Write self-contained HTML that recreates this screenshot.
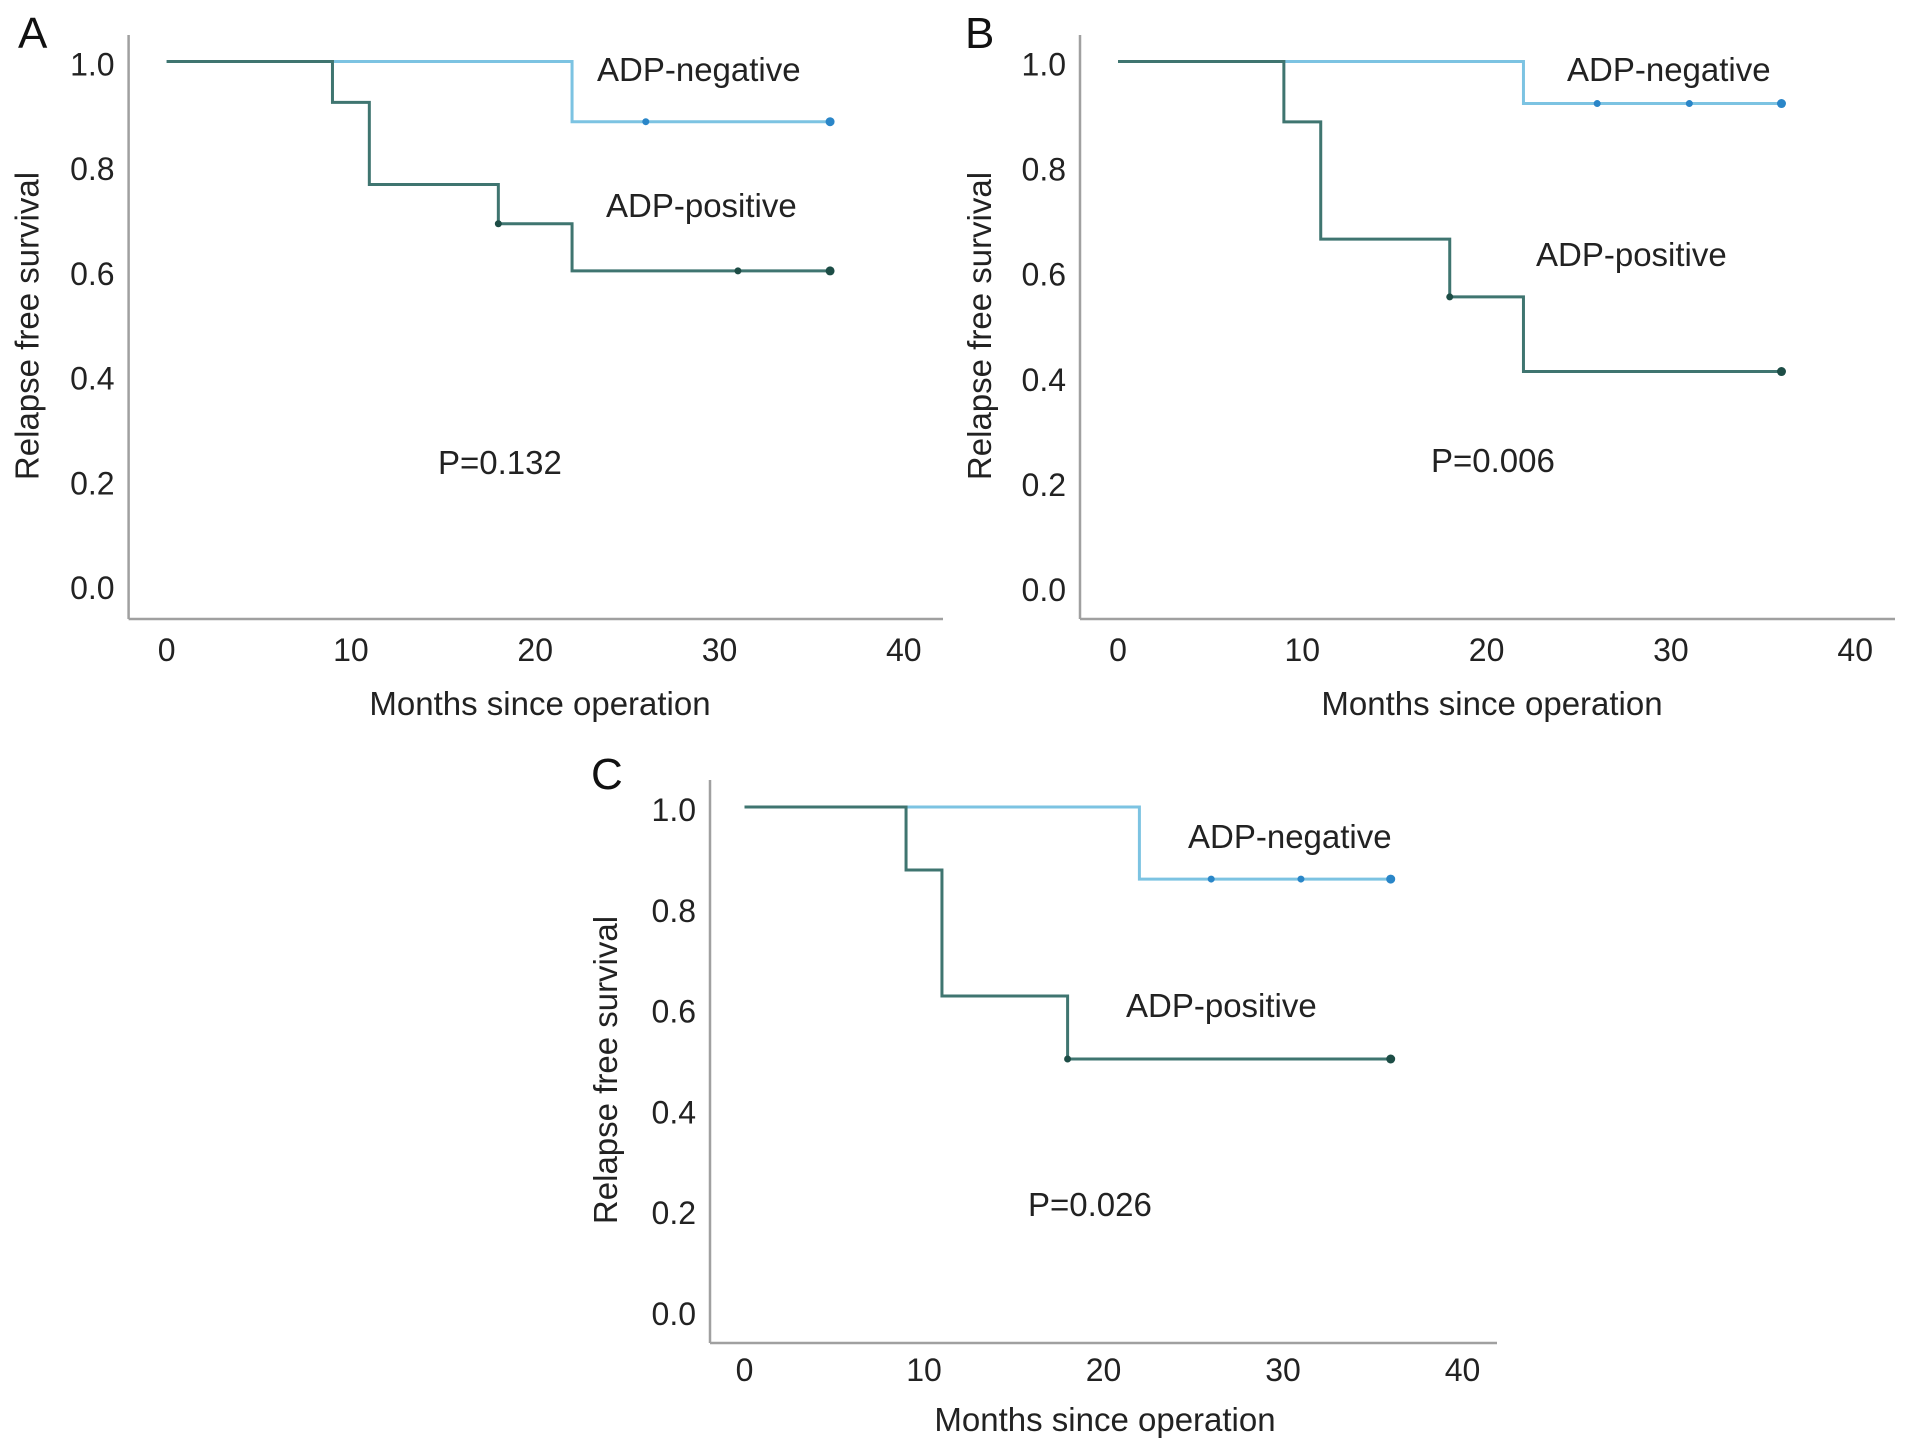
<!DOCTYPE html>
<html><head><meta charset="utf-8"><style>
html,body{margin:0;padding:0;background:#fff;}
svg{display:block;font-family:"Liberation Sans",Arial,sans-serif;}
</style></head>
<body>
<svg id="fig" width="1913" height="1450" viewBox="0 0 1913 1450" xmlns="http://www.w3.org/2000/svg"></svg>
<script>
// Data (months, survival)
const panelIds = ["A", "B", "C"];
const negStepsA = [[0, 1.0], [22, 0.885]];
const negCensorA = [26, 36];
const posStepsA = [[0, 1.0], [9, 0.922], [11, 0.765], [18, 0.69], [22, 0.60]];
const posCensorA = [18, 31, 36];
const negStepsB = [[0, 1.0], [22, 0.92]];
const negCensorB = [26, 31, 36];
const posStepsB = [[0, 1.0], [9, 0.885], [11, 0.662], [18, 0.552], [22, 0.41]];
const posCensorB = [18, 36];
const negStepsC = [[0, 1.0], [22, 0.857]];
const negCensorC = [26, 31, 36];
const posStepsC = [[0, 1.0], [9, 0.875], [11, 0.625], [18, 0.5]];
const posCensorC = [18, 36];
const pValues = ["P=0.132", "P=0.006", "P=0.026"];
const xTicks = [0, 10, 20, 30, 40];
const yTicks = [0, 0.2, 0.4, 0.6, 0.8, 1.0];
const xEnd = 36;

const NS = "http://www.w3.org/2000/svg";
const svg = document.getElementById("fig");
function el(tag, attrs, parent) {
  const e = document.createElementNS(NS, tag);
  for (const k in attrs) e.setAttribute(k, attrs[k]);
  (parent || svg).appendChild(e);
  return e;
}
const layouts = [
  {ax: 128.6, axTop: 35, axY: 619, axRight: 943, x0: 166.6, xs: 18.43, y1: 61.5, y0: 585, fs: 32,
   letter: [18, 48], neg: [597, 70], pos: [606, 206], p: [438, 463], yt: [27.5, 326], xt: [540, 703], xl: 650},
  {ax: 1080, axTop: 35, axY: 619, axRight: 1895, x0: 1118, xs: 18.43, y1: 61.5, y0: 587, fs: 32,
   letter: [965, 48], neg: [1567, 70], pos: [1536, 255], p: [1431, 461], yt: [980, 326], xt: [1492, 703], xl: 650},
  {ax: 710, axTop: 780, axY: 1343, axRight: 1497, x0: 744.5, xs: 17.95, y1: 807, y0: 1311, fs: 32,
   letter: [591, 789], neg: [1188, 837], pos: [1126, 1006], p: [1028, 1205], yt: [606, 1070], xt: [1105, 1419], xl: 1370}
];
const series = [
  [negStepsA, negCensorA, posStepsA, posCensorA],
  [negStepsB, negCensorB, posStepsB, posCensorB],
  [negStepsC, negCensorC, posStepsC, posCensorC]
];
function survAt(steps, t){ let s = steps[0][1]; for (const st of steps) if (st[0] <= t) s = st[1]; return s; }

panelIds.forEach((id, i) => {
  const L = layouts[i];
  const X = v => L.x0 + v * L.xs;
  const Y = v => L.y0 - v * (L.y0 - L.y1);
  const g = el("g", {});
  
  
  const lt = el("text", {x: L.letter[0], y: L.letter[1], "font-size": 44, fill: "#111"}, g);
  
  
  lt.textContent = id;
  const ya = el("line", {x1: L.ax, y1: L.axTop, x2: L.ax, y2: L.axY, stroke: "#a0a0a0", "stroke-width": 2.5}, g);
  
  
  const xa = el("line", {x1: L.ax, y1: L.axY, x2: L.axRight, y2: L.axY, stroke: "#a0a0a0", "stroke-width": 2.5}, g);
  
  
  yTicks.forEach(v => {
    const t = el("text", {x: L.ax - 14, y: Y(v) + 14, "font-size": L.fs, "text-anchor": "end", fill: "#222"}, g);
    
    
    t.textContent = v.toFixed(1);
  });
  xTicks.forEach(v => {
    const t = el("text", {x: X(v), y: L.xl + 11, "font-size": L.fs, "text-anchor": "middle", fill: "#222"}, g);
    
    
    t.textContent = v;
  });
  const yt = el("text", {x: 0, y: 0, "font-size": 33, "text-anchor": "middle", fill: "#222",
    transform: `translate(${L.yt[0] + 11},${L.yt[1]}) rotate(-90)`}, g);
  
  
  yt.textContent = "Relapse free survival";
  const xt = el("text", {x: L.xt[0], y: L.xt[1] + 12, "font-size": 33, "text-anchor": "middle", fill: "#222"}, g);
  
  
  xt.textContent = "Months since operation";

  const [negS, negC, posS, posC] = series[i];
  const draw = (steps, cens, color, mcol, name) => {
    let d = `M${X(steps[0][0])},${Y(steps[0][1])}`;
    for (let k = 1; k < steps.length; k++) {
      d += ` H${X(steps[k][0])} V${Y(steps[k][1])}`;
    }
    d += ` H${X(xEnd)}`;
    const p = el("path", {d, fill: "none", stroke: color, "stroke-width": 3}, g);
    
    
    cens.forEach((c, k) => {
      const m = el("circle", {cx: X(c), cy: Y(survAt(steps, c)), r: k === cens.length - 1 ? 4.5 : 3.5, fill: mcol}, g);
      
      
    });
  };
  draw(negS, negC, "#7cc3e2", "#2a86c8", "adp-negative");
  draw(posS, posC, "#3f7570", "#1d4d46", "adp-positive");

  const nl = el("text", {x: L.neg[0], y: L.neg[1] + 11, "font-size": 33, fill: "#222"}, g);
  
  
  nl.textContent = "ADP-negative";
  const pl = el("text", {x: L.pos[0], y: L.pos[1] + 11, "font-size": 33, fill: "#222"}, g);
  
  
  pl.textContent = "ADP-positive";
  const pv = el("text", {x: L.p[0], y: L.p[1] + 11, "font-size": 33, fill: "#222"}, g);
  
  
  pv.textContent = pValues[i];
});
</script>
</body></html>
